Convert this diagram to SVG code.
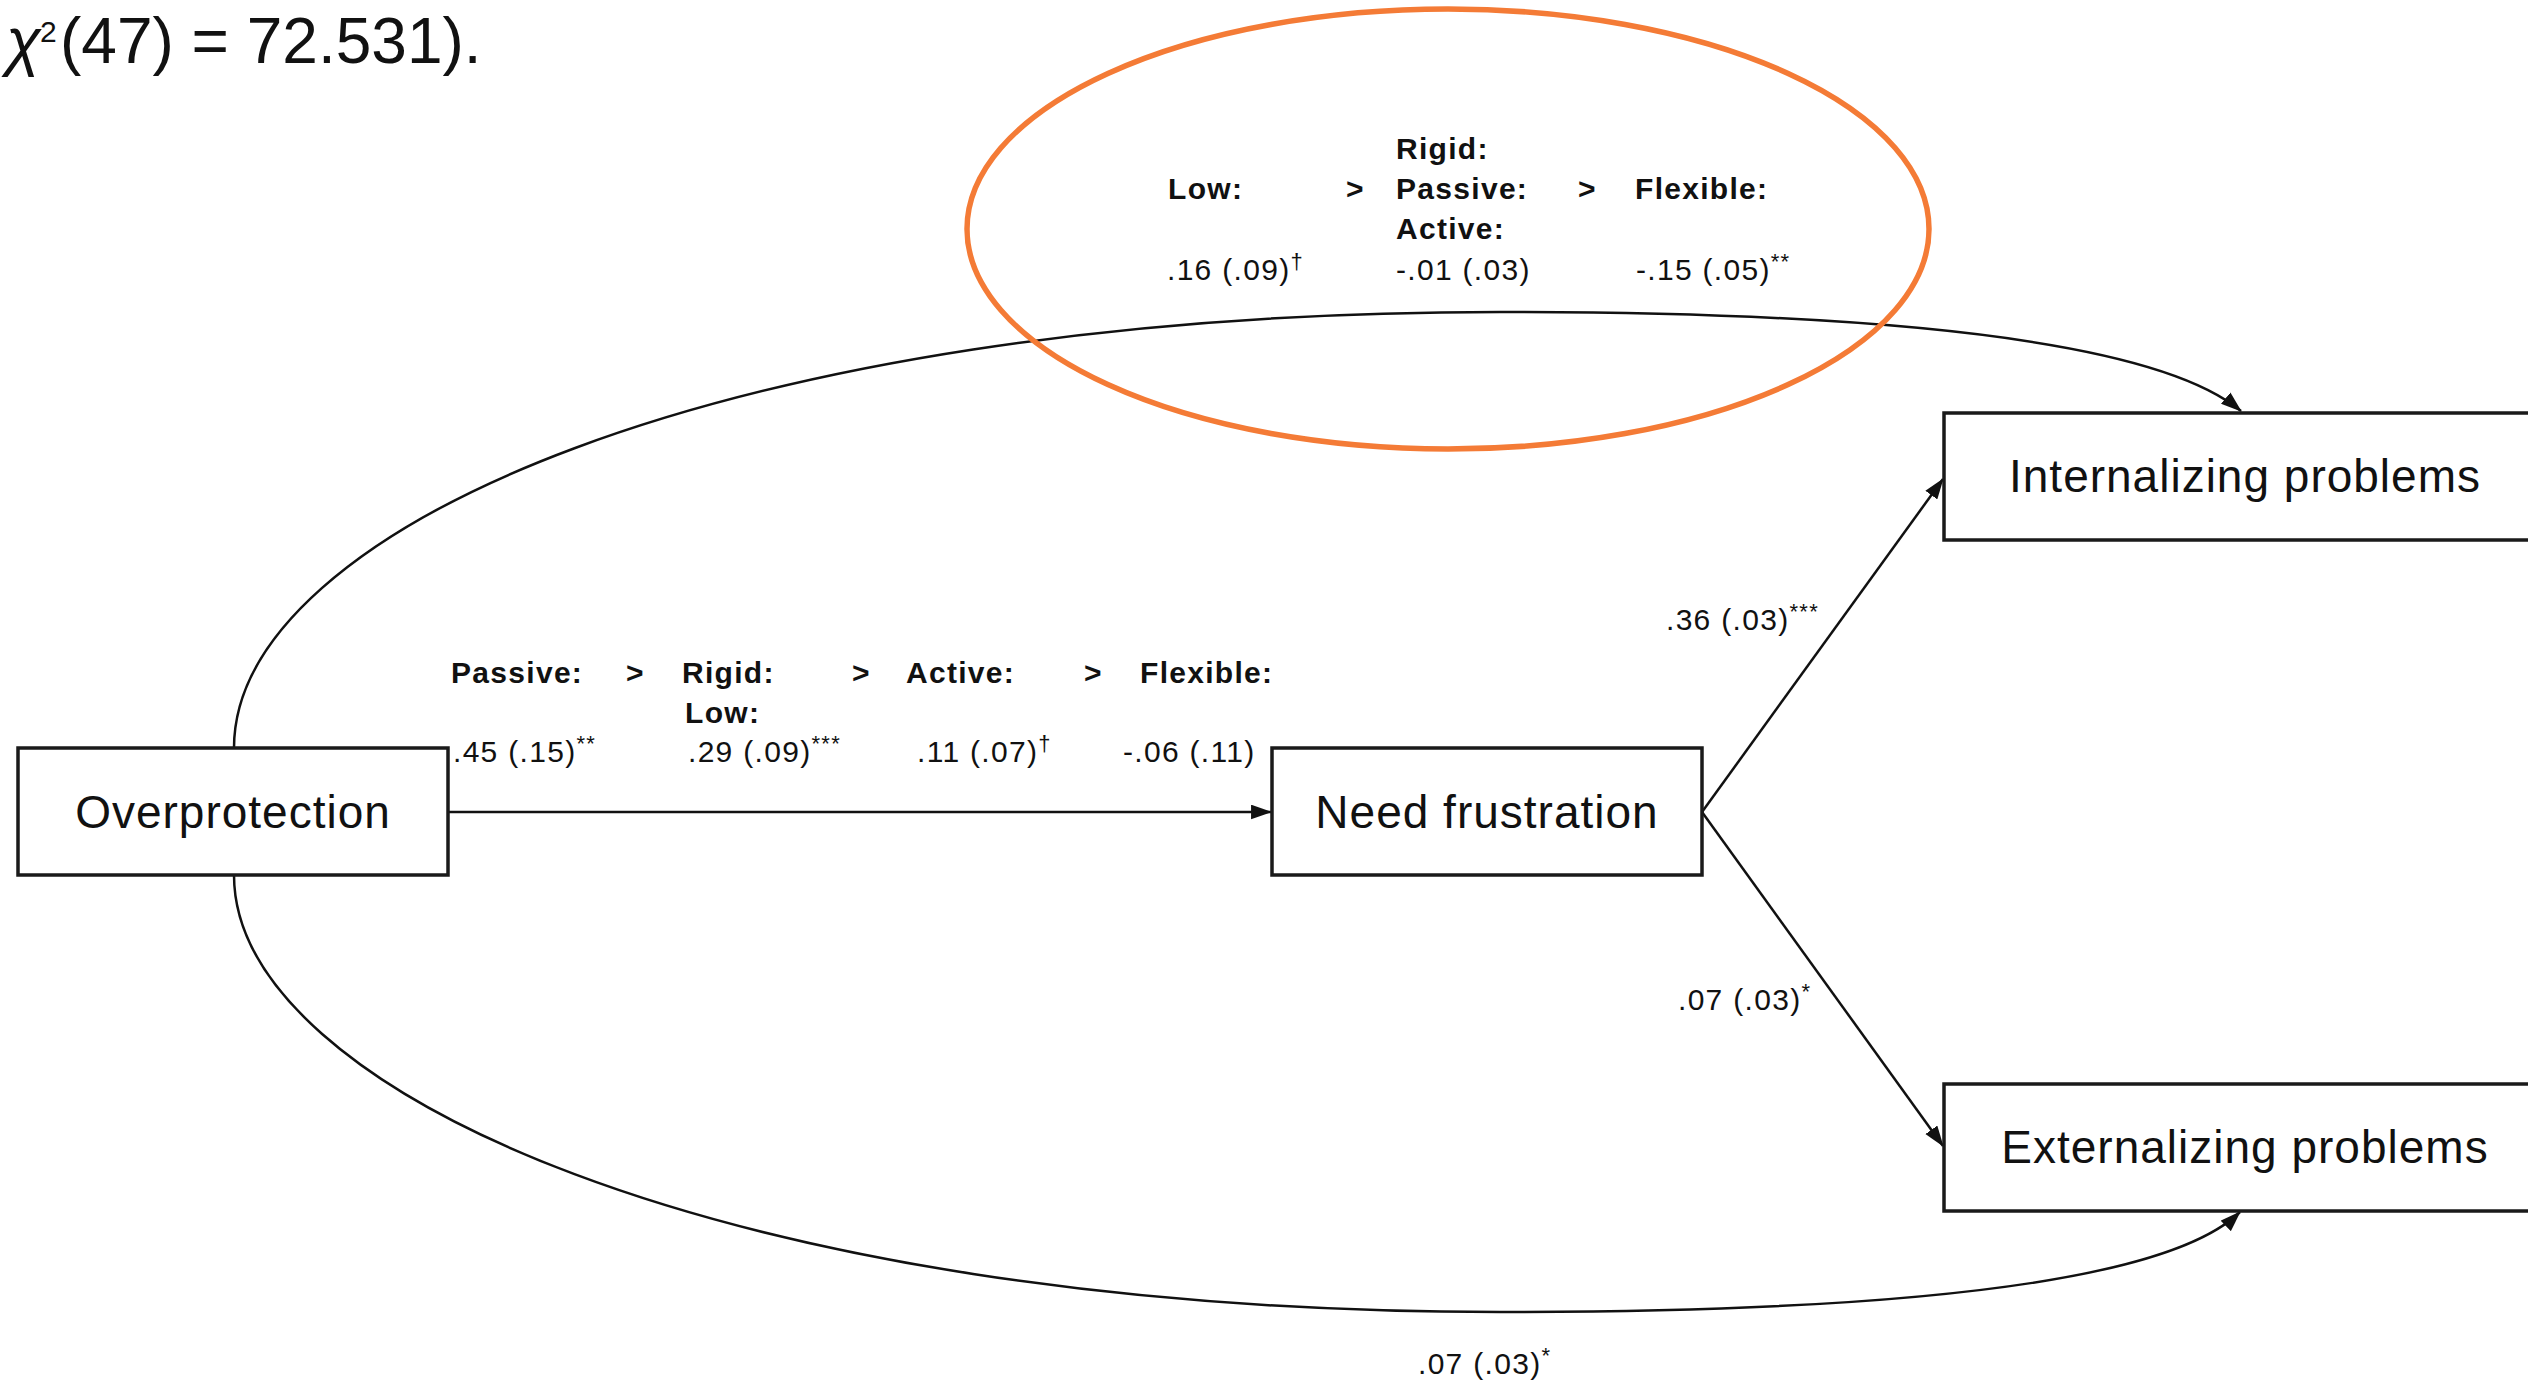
<svg xmlns="http://www.w3.org/2000/svg" width="2528" height="1385" viewBox="0 0 2528 1385">
  <style>
    .box { fill: #ffffff; stroke: #1a1a1a; stroke-width: 3.5; }
    .node { font-family: "Liberation Sans", Arial, sans-serif; font-size: 46px; letter-spacing: 1px; fill: #111; text-anchor: middle; }
    .lbl { font-family: "Liberation Sans", Arial, sans-serif; font-size: 30px; letter-spacing: 1.3px; fill: #111; }
    .b { font-weight: bold; }
    .sup { font-size: 22px; }
    .edge { fill: none; stroke: #111; stroke-width: 2.5; marker-end: url(#arrow); }
    .title { font-family: "Liberation Sans", Arial, sans-serif; font-size: 64px; fill: #111; }
  </style>
  <defs>
    <marker id="arrow" viewBox="0 0 20 14" refX="19" refY="7" markerWidth="21" markerHeight="15" markerUnits="userSpaceOnUse" orient="auto">
      <path d="M0,0 L20,7 L0,14 z" fill="#111"/>
    </marker>
  </defs>
  <rect width="2528" height="1385" fill="#ffffff"/>

  <text class="title" x="6" y="63"><tspan font-style="italic">χ</tspan><tspan font-size="30" x="40" y="42">2</tspan><tspan x="60" y="63">(47) = 72.531).</tspan></text>

  <g id="connectors">
    <path class="edge" d="M234,748 C234,530 720,312 1500,312 C1850,312 2150,335 2241,411"/>
    <path class="edge" d="M234,875 C234,1090 720,1312 1500,1312 C1850,1312 2160,1290 2240,1212"/>
    <path class="edge" d="M448,812 L1271,812"/>
    <path class="edge" d="M1702,812 L1943,479"/>
    <path class="edge" d="M1702,812 L1943,1146"/>
  </g>

  <g id="node-overprotection">
    <rect class="box" x="18" y="748" width="430" height="127"/>
    <text class="node" x="233" y="828">Overprotection</text>
  </g>
  <g id="node-need-frustration">
    <rect class="box" x="1272" y="748" width="430" height="127"/>
    <text class="node" x="1487" y="828">Need frustration</text>
  </g>
  <g id="node-internalizing">
    <rect class="box" x="1944" y="413" width="610" height="127"/>
    <text class="node" x="2245" y="492">Internalizing problems</text>
  </g>
  <g id="node-externalizing">
    <rect class="box" x="1944" y="1084" width="610" height="127"/>
    <text class="node" x="2245" y="1163">Externalizing problems</text>
  </g>

  <g id="labels-top">
    <ellipse cx="1448" cy="229" rx="481" ry="220" fill="none" stroke="#f47b36" stroke-width="5.5"/>
    <text class="lbl b" x="1168" y="199">Low:</text>
    <text class="lbl b" x="1346" y="199">&gt;</text>
    <text class="lbl b" x="1396" y="159">Rigid:</text>
    <text class="lbl b" x="1396" y="199">Passive:</text>
    <text class="lbl b" x="1396" y="239">Active:</text>
    <text class="lbl b" x="1578" y="199">&gt;</text>
    <text class="lbl b" x="1635" y="199">Flexible:</text>
    <text class="lbl" x="1167" y="280">.16 (.09)<tspan class="sup" dy="-11">†</tspan></text>
    <text class="lbl" x="1396" y="280">-.01 (.03)</text>
    <text class="lbl" x="1636" y="280">-.15 (.05)<tspan class="sup" dy="-11">**</tspan></text>
  </g>

  <g id="labels-middle">
    <text class="lbl b" x="451" y="683">Passive:</text>
    <text class="lbl b" x="626" y="683">&gt;</text>
    <text class="lbl b" x="682" y="683">Rigid:</text>
    <text class="lbl b" x="685" y="723">Low:</text>
    <text class="lbl b" x="852" y="683">&gt;</text>
    <text class="lbl b" x="906" y="683">Active:</text>
    <text class="lbl b" x="1084" y="683">&gt;</text>
    <text class="lbl b" x="1140" y="683">Flexible:</text>
    <text class="lbl" x="453" y="762">.45 (.15)<tspan class="sup" dy="-11">**</tspan></text>
    <text class="lbl" x="688" y="762">.29 (.09)<tspan class="sup" dy="-11">***</tspan></text>
    <text class="lbl" x="917" y="762">.11 (.07)<tspan class="sup" dy="-11">†</tspan></text>
    <text class="lbl" x="1123" y="762">-.06 (.11)</text>
  </g>

  <g id="labels-paths">
    <text class="lbl" x="1666" y="630">.36 (.03)<tspan class="sup" dy="-11">***</tspan></text>
    <text class="lbl" x="1678" y="1010">.07 (.03)<tspan class="sup" dy="-11">*</tspan></text>
    <text class="lbl" x="1418" y="1374">.07 (.03)<tspan class="sup" dy="-11">*</tspan></text>
  </g>
</svg>
